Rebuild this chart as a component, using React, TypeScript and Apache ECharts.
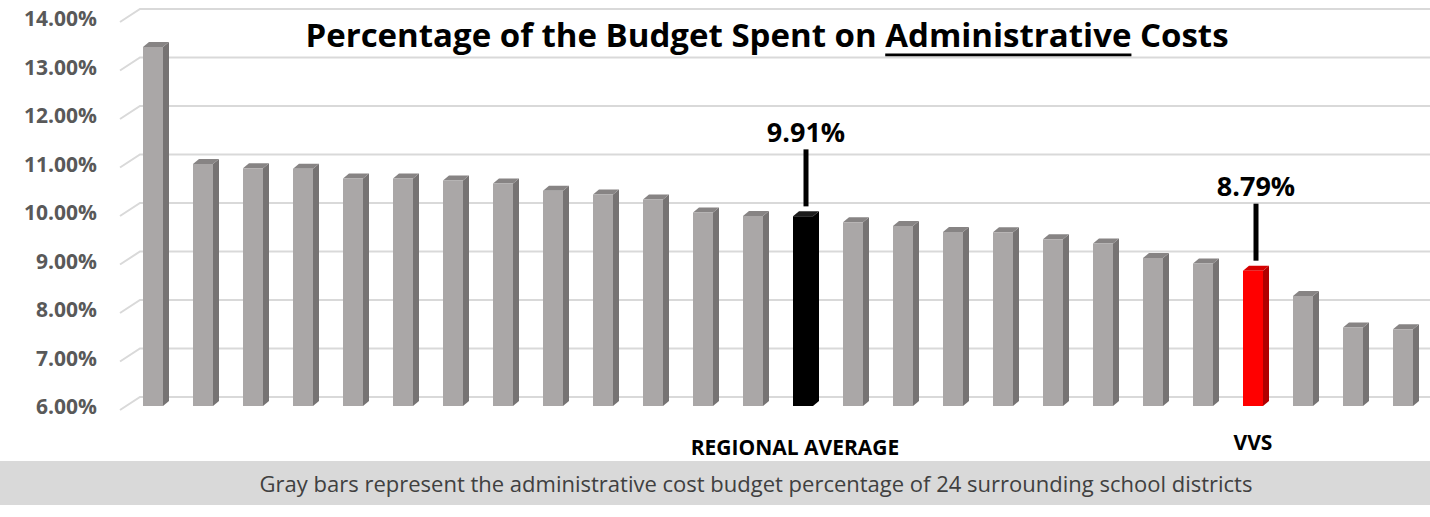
import React, { useEffect, useRef } from "react";
import * as echarts from "echarts";

const AVG = "REGIONAL AVERAGE";
const VVS = "VVS";

const categories = [
  "District 1", "District 2", "District 3", "District 4", "District 5", "District 6",
  "District 7", "District 8", "District 9", "District 10", "District 11", "District 12",
  "District 13", AVG, "District 14", "District 15", "District 16", "District 17",
  "District 18", "District 19", "District 20", "District 21", VVS, "District 22",
  "District 23", "District 24",
];

const values = [
  13.4, 10.99, 10.9, 10.89, 10.69, 10.69, 10.65, 10.59, 10.44, 10.36, 10.26, 9.99,
  9.92, 9.91, 9.79, 9.71, 9.59, 9.58, 9.44, 9.35, 9.05, 8.94, 8.79, 8.27, 7.62, 7.58,
];

const yTicks = [6, 7, 8, 9, 10, 11, 12, 13, 14];

const TITLE_PRE = "Percentage of the Budget Spent on ";
const TITLE_U = "Administrative";
const TITLE_POST = " Costs";
const CAPTION =
  "Gray bars represent the administrative cost budget percentage of 24 surrounding school districts";

const FONT = '"Open Sans", "Noto Sans", sans-serif';

function measure(text: string, font: string): number {
  const c = document.createElement("canvas");
  const ctx = c.getContext("2d");
  if (!ctx) return text.length * 15;
  ctx.font = font;
  return ctx.measureText(text).width;
}

export default function App() {
  const ref = useRef<HTMLDivElement>(null);

  useEffect(() => {
    if (!ref.current) return;
    const chart = echarts.init(ref.current, undefined, { renderer: "svg" });

    const titleFont = `bold 33px ${FONT}`;
    const titleCx = 767;
    const titleY = 34;
    const fullW = measure(TITLE_PRE + TITLE_U + TITLE_POST, titleFont);
    const preW = measure(TITLE_PRE, titleFont);
    const uW = measure(TITLE_U, titleFont);
    const uX = titleCx - fullW / 2 + preW;

    const palette = (name: string) => {
      if (name === AVG) return { front: "#000000", side: "#000000", top: "#1c1c1c" };
      if (name === VVS) return { front: "#ff0000", side: "#b00000", top: "#d60000" };
      return { front: "#aaa7a7", side: "#767373", top: "#878484" };
    };

    const option: any = {
      animation: false,
      grid: { left: 128, right: 2, top: 18, bottom: 111 },
      xAxis: {
        type: "category",
        data: categories,
        axisLine: { show: false },
        axisTick: { show: false },
        axisLabel: {
          interval: 0,
          margin: 25,
          color: "#000",
          fontFamily: FONT,
          fontWeight: "bold",
          fontSize: 21,
          formatter: (name: string) =>
            name === AVG ? `{avg|${name}}` : name === VVS ? `{vvs|${name}}` : "",
          rich: {
            avg: {
              color: "#000",
              fontFamily: FONT,
              fontWeight: "bold",
              fontSize: 21,
              padding: [5, 16, 0, 0],
            },
            vvs: {
              color: "#000",
              fontFamily: FONT,
              fontWeight: "bold",
              fontSize: 21,
            },
          },
        },
      },
      yAxis: {
        type: "value",
        min: 6,
        max: 14,
        interval: 1,
        axisLine: { show: false },
        axisTick: { show: false },
        splitLine: { show: false },
        axisLabel: {
          margin: 31,
          color: "#595959",
          fontFamily: FONT,
          fontWeight: "bold",
          fontSize: 21,
          formatter: (v: number) => v.toFixed(2) + "%",
        },
      },
      graphic: [
        {
          type: "text",
          x: titleCx,
          y: titleY,
          style: {
            text: TITLE_PRE + TITLE_U + TITLE_POST,
            font: titleFont,
            fill: "#000",
            align: "center",
            verticalAlign: "middle",
          },
        },
        {
          type: "line",
          shape: { x1: uX, y1: titleY + 21, x2: uX + uW, y2: titleY + 21 },
          style: { stroke: "#000", lineWidth: 3 },
        },
        {
          type: "rect",
          shape: { x: 0, y: 461, width: 1430, height: 44 },
          style: { fill: "#d9d9d9" },
        },
        {
          type: "text",
          x: 756,
          y: 483,
          style: {
            text: CAPTION,
            font: `22px ${FONT}`,
            fill: "#404040",
            align: "center",
            verticalAlign: "middle",
          },
        },
      ],
      series: [
        {
          type: "custom",
          name: "wall",
          z: 1,
          silent: true,
          data: yTicks.map((v) => [0, v]),
          encode: { x: 0, y: 1 },
          renderItem: (params: any, api: any) => {
            const v = api.value(1);
            const p = api.coord([0, v]);
            const cs = params.coordSys;
            const x0 = cs.x;
            const y = p[1];
            return {
              type: "polyline",
              shape: {
                points: [
                  [x0 - 8, y + 4],
                  [x0 + 12, y - 9],
                  [cs.x + cs.width + 10, y - 9],
                ],
              },
              style: { stroke: "#d9d9d9", lineWidth: 2, fill: null },
            };
          },
        },
        {
          type: "custom",
          name: "bars",
          z: 2,
          data: values.map((v, i) => [i, v]),
          encode: { x: 0, y: 1 },
          renderItem: (params: any, api: any) => {
            const i = api.value(0);
            const v = api.value(1);
            const top = api.coord([i, v]);
            const bot = api.coord([i, 6]);
            const cx = top[0];
            const hw = 10;
            const dx = 6;
            const dy = 5;
            const ty = top[1];
            const by = bot[1];
            const name = categories[i];
            const c = palette(name);
            const children: any[] = [
              {
                type: "polygon",
                shape: {
                  points: [
                    [cx + hw, ty],
                    [cx + hw + dx, ty - dy],
                    [cx + hw + dx, by - dy],
                    [cx + hw, by],
                  ],
                },
                style: { fill: c.side },
              },
              {
                type: "polygon",
                shape: {
                  points: [
                    [cx - hw, ty],
                    [cx - hw + dx, ty - dy],
                    [cx + hw + dx, ty - dy],
                    [cx + hw, ty],
                  ],
                },
                style: { fill: c.top },
              },
              {
                type: "rect",
                shape: { x: cx - hw, y: ty, width: hw * 2, height: by - ty },
                style: { fill: c.front },
              },
            ];
            if (name === AVG || name === VVS) {
              children.push({
                type: "line",
                shape: { x1: cx + 3, y1: ty - 10, x2: cx + 3, y2: ty - 67 },
                style: { stroke: "#000", lineWidth: 5 },
              });
              children.push({
                type: "text",
                style: {
                  text: v.toFixed(2) + "%",
                  x: cx + 3,
                  y: ty - 85,
                  font: `bold 27px ${FONT}`,
                  fill: "#000",
                  align: "center",
                  verticalAlign: "middle",
                },
              });
            }
            return { type: "group", children };
          },
        },
      ],
    };

    chart.setOption(option);
    return () => chart.dispose();
  }, []);

  return (
    <div
      ref={ref}
      style={{ position: "absolute", left: 0, top: 0, width: 1430, height: 517, background: "#fff" }}
    />
  );
}
